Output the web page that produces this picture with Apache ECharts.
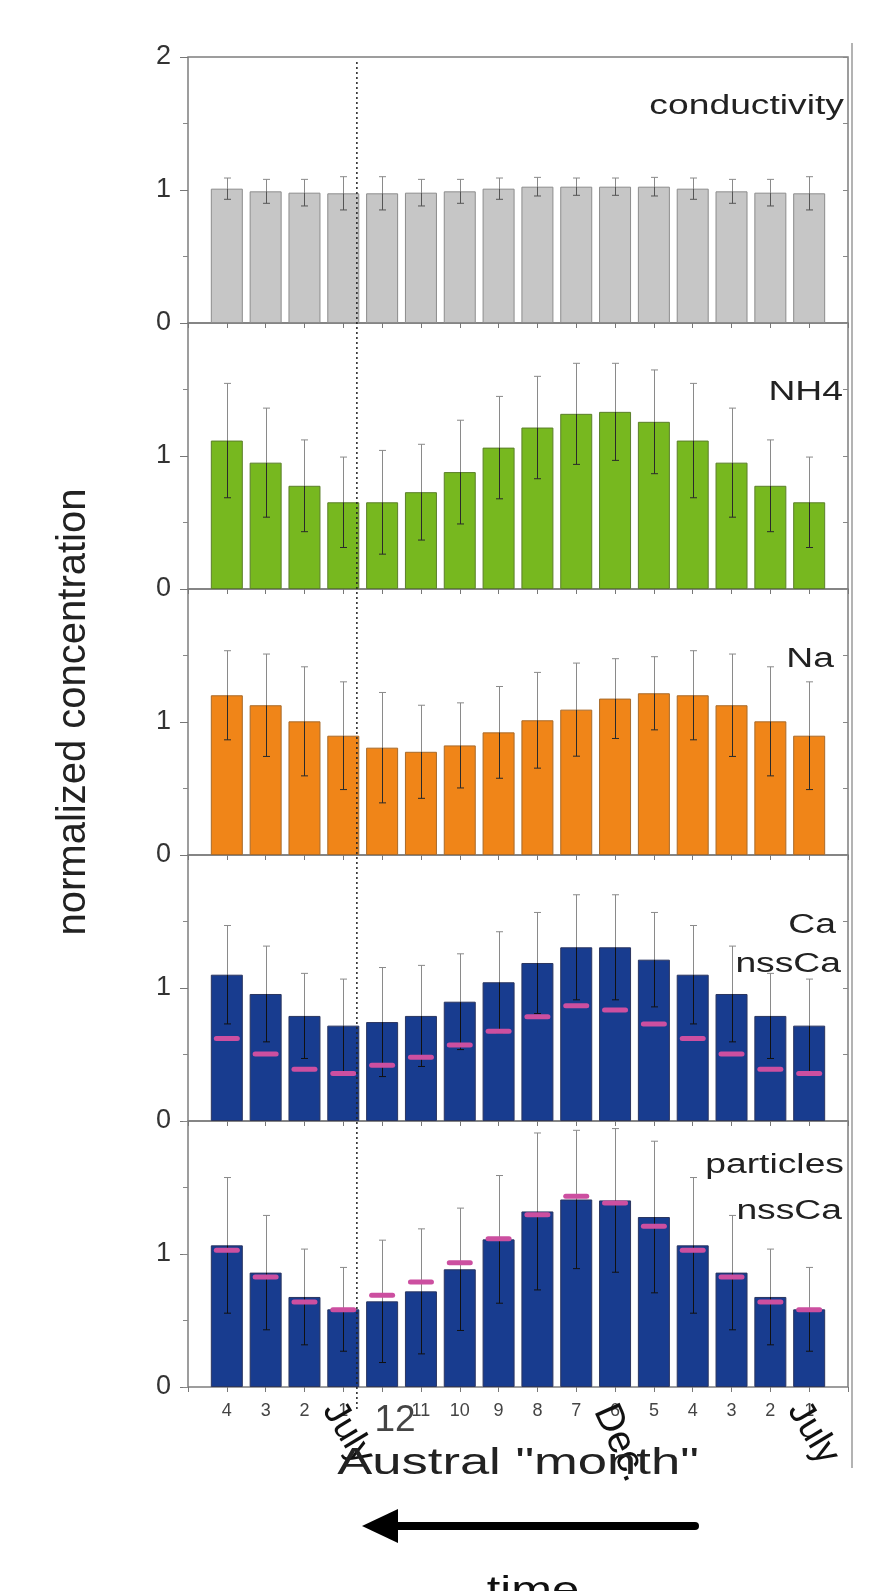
<!DOCTYPE html>
<html><head><meta charset="utf-8">
<script src="https://cdn.jsdelivr.net/npm/echarts@6/dist/echarts.min.js"></script>
<style>html,body{margin:0;padding:0;background:#fff}#c{width:886px;height:1591px}</style>
</head><body><div id="c"></div>
<script>
// ---- data ----
const monthLabels = ['4','3','2','1','12','11','10','9','8','7','6','5','4','3','2','1'];

const conductivity    = [1.01,0.99,0.98,0.975,0.975,0.98,0.99,1.01,1.025,1.025,1.025,1.025,1.01,0.99,0.98,0.975];
const conductivityErr = [0.08,0.09,0.10,0.125,0.125,0.10,0.09,0.08,0.07,0.065,0.065,0.07,0.08,0.09,0.10,0.125];

const nh4    = [1.116,0.95,0.776,0.652,0.652,0.728,0.879,1.063,1.214,1.317,1.332,1.257,1.116,0.95,0.776,0.652];
const nh4Err = [0.43,0.41,0.345,0.34,0.39,0.36,0.39,0.385,0.385,0.38,0.365,0.39,0.43,0.41,0.345,0.34];

const na    = [1.201,1.126,1.005,0.897,0.807,0.776,0.824,0.922,1.013,1.093,1.176,1.216,1.201,1.126,1.005,0.897];
const naErr = [0.335,0.385,0.41,0.405,0.415,0.35,0.32,0.345,0.36,0.35,0.30,0.275,0.335,0.385,0.41,0.405];

const ca    = [1.10,0.955,0.79,0.717,0.744,0.79,0.897,1.043,1.188,1.306,1.306,1.213,1.10,0.955,0.79,0.717];
const caErr = [0.37,0.36,0.32,0.35,0.41,0.38,0.36,0.38,0.38,0.395,0.395,0.355,0.37,0.36,0.32,0.35];
const caNss = [0.62,0.504,0.39,0.358,0.42,0.479,0.571,0.674,0.784,0.867,0.835,0.729,0.62,0.504,0.39,0.358];

const particles    = [1.065,0.86,0.677,0.584,0.644,0.719,0.885,1.11,1.32,1.41,1.403,1.278,1.065,0.86,0.677,0.584];
const particlesErr = [0.51,0.43,0.36,0.315,0.46,0.47,0.46,0.48,0.59,0.52,0.54,0.57,0.51,0.43,0.36,0.315];
const particlesNss = [1.028,0.827,0.639,0.581,0.689,0.789,0.935,1.115,1.296,1.434,1.383,1.208,1.028,0.827,0.639,0.581];

const yTickLabels = ['0','1','2'];
const julyLineX = 4.35;   // dotted "July" marker, in x-axis units

// ---- layout / style ----
const FONT = 'Liberation Sans';
const gridLeft = 188, gridW = 660, gridTop = 57, panelH = 266;
const panels = [
  {vals: conductivity, err: conductivityErr, nss: null, color:'#c6c6c6', border:'#8c8c8c', inner:'#555'},
  {vals: nh4, err: nh4Err, nss: null, color:'#77b81f', border:'#5b7f2a', inner:'#2a2a2a'},
  {vals: na, err: naErr, nss: null, color:'#f08518', border:'#a86a2a', inner:'#2a2a2a'},
  {vals: ca, err: caErr, nss: caNss, color:'#183c8f', border:'#2a3560', inner:'#111'},
  {vals: particles, err: particlesErr, nss: particlesNss, color:'#183c8f', border:'#2a3560', inner:'#111'}
];

const grids = [], xAxes = [], yAxes = [], series = [];
panels.forEach((p, i) => {
  grids.push({left: gridLeft, width: gridW, top: gridTop + i*panelH, height: panelH,
    show: true, borderColor: '#7d7d7d', borderWidth: 1.5, backgroundColor: 'transparent',
    containLabel: false, outerBoundsMode: 'none'});
  xAxes.push({gridIndex: i, type: 'value', position: 'top', min: 0, max: 17, interval: 1,
    axisLine: {show: false}, splitLine: {show: false}, axisLabel: {show: false},
    axisTick: {show: true, inside: true, length: 5, lineStyle: {color: '#777', width: 1}}});
  yAxes.push({gridIndex: i, type: 'value', position: 'left', min: 0, max: 2, interval: 1,
    axisLine: {show: false}, splitLine: {show: false},
    axisTick: {show: true, inside: false, length: 8, lineStyle: {color: '#777', width: 1}},
    minorTick: {show: true, splitNumber: 2, length: 5, lineStyle: {color: '#888', width: 1}},
    axisLabel: {show: true, fontFamily: FONT, fontSize: 27, color: '#333', margin: 17,
      formatter: (v) => { const k = Math.round(v); if (k === 2 && i > 0) return ''; return yTickLabels[k]; }}});
  yAxes.push({gridIndex: i, type: 'value', position: 'right', min: 0, max: 2, interval: 0.5,
    axisLine: {show: false}, splitLine: {show: false}, axisLabel: {show: false},
    axisTick: {show: true, inside: true, length: 5, lineStyle: {color: '#888', width: 1}}});

  series.push({type: 'bar', xAxisIndex: i, yAxisIndex: 2*i, barWidth: 32, z: 2,
    data: p.vals.map((v, k) => [k + 1, v]),
    itemStyle: {color: p.color, borderColor: p.border, borderWidth: 1},
    emphasis: {disabled: true}, silent: true});
  series.push({type: 'custom', xAxisIndex: i, yAxisIndex: 2*i, z: 3, silent: true,
    encode: {x: 0, y: 1},
    data: p.vals.map((v, k) => [k + 1, v, p.err[k]]),
    renderItem: (params, api) => {
      const x = api.value(0), v = api.value(1), e = api.value(2);
      const t = api.coord([x, v + e]), m = api.coord([x, v]), b = api.coord([x, v - e]);
      const cw = 3.5, cx = Math.round(t[0]) + 0.5;
      return {type: 'group', children: [
        {type: 'line', shape: {x1: cx, y1: t[1], x2: cx, y2: m[1]}, style: {stroke: '#8a8a8a', lineWidth: 1}},
        {type: 'line', shape: {x1: cx, y1: m[1], x2: cx, y2: b[1]}, style: {stroke: p.inner, lineWidth: 1}},
        {type: 'line', shape: {x1: cx - cw, y1: t[1], x2: cx + cw, y2: t[1]}, style: {stroke: '#8a8a8a', lineWidth: 1}},
        {type: 'line', shape: {x1: cx - cw, y1: b[1], x2: cx + cw, y2: b[1]}, style: {stroke: p.inner, lineWidth: 1}}
      ]};
    }});
  if (p.nss) {
    series.push({type: 'custom', xAxisIndex: i, yAxisIndex: 2*i, z: 4, silent: true,
      encode: {x: 0, y: 1},
      data: p.nss.map((v, k) => [k + 1, v]),
      renderItem: (params, api) => {
        const c = api.coord([api.value(0), api.value(1)]);
        return {type: 'rect', shape: {x: c[0] - 13, y: c[1] - 2.5, width: 26, height: 5, r: 2.5},
          style: {fill: '#cc4fa0'}};
      }});
  }
});
// bottom month axis
xAxes.push({gridIndex: 4, type: 'value', position: 'bottom', min: 0, max: 17, interval: 1,
  axisLine: {show: false}, splitLine: {show: false},
  axisTick: {show: true, inside: false, length: 5, lineStyle: {color: '#777', width: 1}},
  axisLabel: {show: true, fontFamily: FONT, fontSize: 18, color: '#444', margin: 15,
    formatter: (v) => { const s = monthLabels[Math.round(v) - 1]; if (!s) return ''; return s === '12' ? '{big|12}' : s; },
    rich: {big: {fontFamily: FONT, fontSize: 37, color: '#444', padding: [0, 0, 0, 26]}}}});

const chart = echarts.init(document.getElementById('c'), null, {renderer: 'canvas'});
chart.setOption({animation: false, backgroundColor: '#fff', grid: grids, xAxis: xAxes, yAxis: yAxes, series: series});

// ---- annotations ----
const pTop = chart.convertToPixel({xAxisIndex: 0, yAxisIndex: 0}, [julyLineX, 2]);
const pBot = chart.convertToPixel({xAxisIndex: 4, yAxisIndex: 8}, [julyLineX, 0]);
const pRight = chart.convertToPixel({xAxisIndex: 0, yAxisIndex: 0}, [17, 2]);

function txt(s, x, y, o) {
  return Object.assign({type: 'text', x: x, y: y, z: 100, silent: true,
    style: Object.assign({text: s, fontFamily: FONT, fontSize: 27, fill: '#222',
      textAlign: 'right', textVerticalAlign: 'middle'}, o && o.style || {})},
    o && o.el || {});
}
const sx = 1.38;
chart.setOption({graphic: [
  {type: 'line', z: 50, silent: true, shape: {x1: pTop[0], y1: pTop[1] + 5, x2: pBot[0], y2: pBot[1] + 24},
    style: {stroke: '#222', lineWidth: 1.5, lineDash: [2, 3]}},
  {type: 'line', z: 50, silent: true, shape: {x1: pRight[0] + 4, y1: 43, x2: pRight[0] + 4, y2: 1468},
    style: {stroke: '#9a9a9a', lineWidth: 1.5}},
  txt('conductivity', 844, 107, {el: {scaleX: sx}}),
  txt('NH4', 843, 393, {el: {scaleX: sx}}),
  txt('Na', 834, 660, {el: {scaleX: sx}}),
  txt('Ca', 836, 926, {el: {scaleX: sx}}),
  txt('nssCa', 841, 965, {el: {scaleX: sx}}),
  txt('particles', 844, 1166, {el: {scaleX: sx}}),
  txt('nssCa', 842, 1212, {el: {scaleX: sx}}),
  txt('normalized concentration', 74, 712, {el: {rotation: Math.PI / 2},
    style: {fontSize: 40, textAlign: 'center', fill: '#222'}}),
  txt('July', 348, 1433, {el: {rotation: -1.03}, style: {fontSize: 37, textAlign: 'center', fill: '#111'}}),
  txt('Dec.', 620, 1443, {el: {rotation: -1.15}, style: {fontSize: 39, textAlign: 'center', fill: '#111'}}),
  txt('July', 813, 1433, {el: {rotation: -1.03}, style: {fontSize: 37, textAlign: 'center', fill: '#111'}}),
  txt('Austral "month"', 518, 1464, {el: {scaleX: 1.46}, style: {fontSize: 36, textAlign: 'center', fill: '#222'}}),
  txt('time', 533, 1592, {el: {scaleX: 1.36}, style: {fontSize: 36, textAlign: 'center', fill: '#111'}}),
  {type: 'line', z: 60, silent: true, shape: {x1: 392, y1: 1526, x2: 695, y2: 1526},
    style: {stroke: '#000', lineWidth: 8, lineCap: 'round'}},
  {type: 'polygon', z: 60, silent: true, shape: {points: [[362, 1526], [398, 1509], [398, 1543]]},
    style: {fill: '#000'}}
]});
</script></body></html>
